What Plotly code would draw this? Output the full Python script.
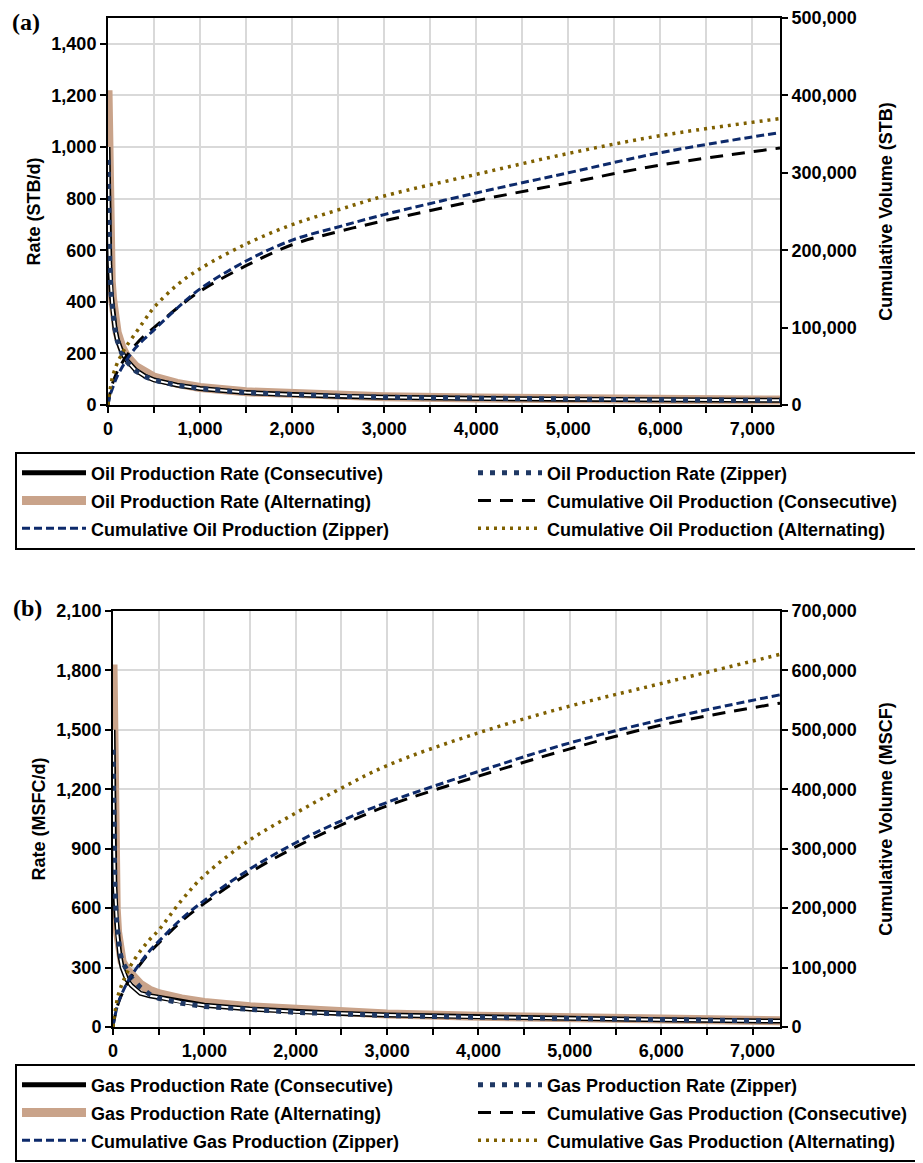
import plotly.graph_objects as go

# The page body adds an 8 px margin, so the figure is 8 px smaller and all
# positions below are given in screen pixels and shifted by OFF.
SW, SH = 923, 1163
OFF = 8
W, H = SW - OFF, SH - OFF
FONT = "Liberation Sans, Arial, sans-serif"
SERIF = "Liberation Serif, Times New Roman, serif"

# ---------------- data ----------------
days = [0, 5, 10, 20, 35, 50, 75, 100, 150, 200, 300, 400, 500, 750, 1000,
        1500, 2000, 2500, 3000, 4000, 5000, 6000, 7300]

oil_rate_consecutive = [1000, 800, 680, 540, 430, 370, 300, 255, 205, 175, 135, 112, 97, 77, 64,
                        48, 40, 34, 30, 25, 22, 20, 18]
oil_rate_zipper = [950, 780, 660, 530, 420, 360, 295, 250, 200, 170, 132, 110, 96, 76, 64,
                   48, 40, 34, 30, 26, 23, 20, 18]
oil_rate_alternating = [1220, 950, 800, 620, 480, 410, 330, 280, 225, 190, 150, 125, 108, 84, 68,
                        51, 42, 36, 32, 27, 24, 21, 19]
oil_cum_consecutive = [0, 4000, 8000, 14000, 22000, 28000, 36000, 43000, 54000, 63000, 78000, 90000,
                       100000, 125000, 147000, 180000, 207000, 224000, 238000, 264000, 287000,
                       310000, 332000]
oil_cum_zipper = [0, 3000, 6000, 11000, 17000, 22000, 30000, 37000, 48000, 58000, 74000, 86000,
                  97000, 125000, 150000, 186000, 213000, 230000, 246000, 274000, 300000, 326000,
                  352000]
oil_cum_alternating = [0, 6000, 11000, 18000, 28000, 37000, 46000, 54000, 66000, 76000, 93000,
                       110000, 126000, 155000, 176000, 208000, 233000, 252000, 270000, 298000,
                       325000, 348000, 370000]

gas_rate_consecutive = [1500, 1150, 950, 720, 550, 460, 360, 300, 240, 210, 170, 158, 150, 125, 110,
                        91, 77, 68, 60, 50, 42, 36, 30]
gas_rate_zipper = [1400, 1100, 900, 700, 560, 470, 380, 330, 285, 250, 200, 165, 145, 120, 104,
                   87, 74, 66, 58, 49, 42, 36, 30]
gas_rate_alternating = [1830, 1300, 1050, 800, 600, 480, 390, 330, 290, 262, 215, 186, 168, 142, 124,
                        102, 87, 75, 66, 54, 45, 38, 31]
gas_cum_consecutive = [0, 5000, 10000, 17000, 27000, 36000, 47000, 56000, 72000, 85000, 106000,
                       125000, 141000, 178000, 208000, 260000, 303000, 340000, 372000, 422000,
                       468000, 508000, 545000]
gas_cum_zipper = [0, 5000, 10000, 17000, 28000, 37000, 48000, 57000, 73000, 86000, 108000, 128000,
                  144000, 182000, 213000, 266000, 310000, 347000, 378000, 430000, 478000, 517000,
                  559000]
gas_cum_alternating = [0, 8000, 14000, 24000, 36000, 50000, 62000, 73000, 90000, 105000, 128000,
                       147000, 163000, 213000, 255000, 315000, 360000, 402000, 440000, 495000,
                       540000, 578000, 627000]

oil_names = ["Oil Production Rate (Consecutive)", "Oil Production Rate (Zipper)",
             "Oil Production Rate (Alternating)", "Cumulative Oil Production (Consecutive)",
             "Cumulative Oil Production (Zipper)", "Cumulative Oil Production (Alternating)"]
gas_names = ["Gas Production Rate (Consecutive)", "Gas Production Rate (Zipper)",
             "Gas Production Rate (Alternating)", "Cumulative Gas Production (Consecutive)",
             "Cumulative Gas Production (Zipper)", "Cumulative Gas Production (Alternating)"]

# ---------------- styles ----------------
TAN = "#C9A38A"
NAVY_DOT = "#1F3864"
NAVY = "#0D2A6B"
GOLD = "#7F6000"
GRID = "#D9D9D9"
LEG_TXT = 18


def px_x(X):
    return (X - OFF) / W


def px_y(Y):
    return (H - (Y - OFF)) / H


def lab(s):
    return '<span style="font-size:%dpx">%s</span>' % (LEG_TXT, s)


fig = go.Figure()


def add_panel(rc, rz, ra, cc, cz, ca, names, xa, ya, ya2, leg, grp):
    fig.add_trace(go.Scatter(x=days, y=ra, name=lab(names[2]), mode="lines",
                             line=dict(color=TAN, width=9), xaxis=xa, yaxis=ya,
                             legend=leg, legendrank=3))
    fig.add_trace(go.Scatter(x=days, y=rc, name=lab(names[0]), mode="lines",
                             line=dict(color="black", width=5), xaxis=xa, yaxis=ya,
                             legend=leg, legendrank=1, legendgroup=grp + "c"))
    fig.add_trace(go.Scatter(x=days, y=rc, mode="lines", showlegend=False,
                             line=dict(color="white", width=2), xaxis=xa, yaxis=ya,
                             legend=leg, legendgroup=grp + "c", hoverinfo="skip"))
    fig.add_trace(go.Scatter(x=days, y=rz, name=lab(names[1]), mode="lines",
                             line=dict(color=NAVY_DOT, width=5, dash="5px,7px"),
                             xaxis=xa, yaxis=ya, legend=leg, legendrank=2))
    fig.add_trace(go.Scatter(x=days, y=cc, name=lab(names[3]), mode="lines", line_shape="spline",
                             line=dict(color="black", width=3, dash="13px,9px"),
                             xaxis=xa, yaxis=ya2, legend=leg, legendrank=4))
    fig.add_trace(go.Scatter(x=days, y=cz, name=lab(names[4]), mode="lines", line_shape="spline",
                             line=dict(color=NAVY, width=3, dash="8px,4px"),
                             xaxis=xa, yaxis=ya2, legend=leg, legendrank=5))
    fig.add_trace(go.Scatter(x=days, y=ca, name=lab(names[5]), mode="lines", line_shape="spline",
                             line=dict(color=GOLD, width=3.5, dash="3px,5px"),
                             xaxis=xa, yaxis=ya2, legend=leg, legendrank=6))


add_panel(oil_rate_consecutive, oil_rate_zipper, oil_rate_alternating,
          oil_cum_consecutive, oil_cum_zipper, oil_cum_alternating,
          oil_names, "x", "y", "y2", "legend", "oil")
add_panel(gas_rate_consecutive, gas_rate_zipper, gas_rate_alternating,
          gas_cum_consecutive, gas_cum_zipper, gas_cum_alternating,
          gas_names, "x2", "y3", "y4", "legend2", "gas")

tfont = dict(family=FONT, size=18, color="black", weight="bold")


def xaxis(dom, anchor):
    return dict(domain=dom, anchor=anchor, range=[0, 7300], tick0=0, dtick=1000,
                tickformat=",d", showgrid=True, gridcolor=GRID, gridwidth=1.5,
                minor=dict(tick0=0, dtick=500, showgrid=True, gridcolor=GRID, gridwidth=1.5,
                           ticks="outside", ticklen=6, tickwidth=2, tickcolor="black"),
                ticks="outside", ticklen=6, tickwidth=2, tickcolor="black",
                showline=True, linecolor="black", linewidth=2, mirror=True,
                zeroline=False, tickfont=tfont, automargin=False, ticklabeloverflow="allow")


def yleft(dom, anchor, rng, dt, title):
    return dict(domain=dom, anchor=anchor, range=rng, tick0=0, dtick=dt, tickformat=",d",
                showgrid=True, gridcolor=GRID, gridwidth=1.5, ticks="outside", ticklen=6,
                tickwidth=2, tickcolor="black", showline=True, linecolor="black", linewidth=2,
                zeroline=False, tickfont=tfont, automargin=False, ticklabeloverflow="allow",
                title=dict(text=title, font=tfont, standoff=6))


def yright(over, anchor, rng, dt, title):
    return dict(overlaying=over, anchor=anchor, side="right", range=rng, tick0=0, dtick=dt,
                tickformat=",d", showgrid=False, ticks="outside", ticklen=6, tickwidth=2,
                tickcolor="black", showline=True, linecolor="black", linewidth=2,
                zeroline=False, tickfont=tfont, automargin=False, ticklabeloverflow="allow",
                title=dict(text=title, font=tfont, standoff=24))


xa_dom = [px_x(108), px_x(780)]
xb_dom = [px_x(113), px_x(780)]
ya_dom = [px_y(405), px_y(18)]
yb_dom = [px_y(1027), px_y(611)]


def legend(ytop):
    return dict(orientation="h", x=px_x(15), xanchor="left", y=px_y(ytop), yanchor="top",
                bordercolor="black", borderwidth=2, bgcolor="white",
                font=dict(family=FONT, size=19, color="black", weight="bold"),
                itemwidth=64, entrywidth=377, entrywidthmode="pixels", traceorder="normal")


fig.update_layout(
    width=W, height=H, autosize=False,
    margin=dict(l=0, r=0, t=0, b=0, autoexpand=False),
    paper_bgcolor="white", plot_bgcolor="white",
    font=dict(family=FONT, color="black"),
    showlegend=True,
    xaxis=xaxis(xa_dom, "y"),
    yaxis=yleft(ya_dom, "x", [0, 1500], 200, "Rate (STB/d)"),
    yaxis2=yright("y", "x", [0, 500000], 100000, "Cumulative Volume (STB)"),
    xaxis2=xaxis(xb_dom, "y3"),
    yaxis3=yleft(yb_dom, "x2", [0, 2100], 300, "Rate (MSFC/d)"),
    yaxis4=yright("y3", "x2", [0, 700000], 100000, "Cumulative Volume (MSCF)"),
    legend=legend(452),
    legend2=legend(1064),
    annotations=[
        dict(text="<b>(a)</b>", x=px_x(10), y=px_y(22), xref="paper", yref="paper",
             xanchor="left", yanchor="middle", showarrow=False,
             font=dict(family=SERIF, size=24, color="black")),
        dict(text="<b>(b)</b>", x=px_x(11), y=px_y(608), xref="paper", yref="paper",
             xanchor="left", yanchor="middle", showarrow=False,
             font=dict(family=SERIF, size=24, color="black")),
    ],
)

fig.write_html("out.html")
